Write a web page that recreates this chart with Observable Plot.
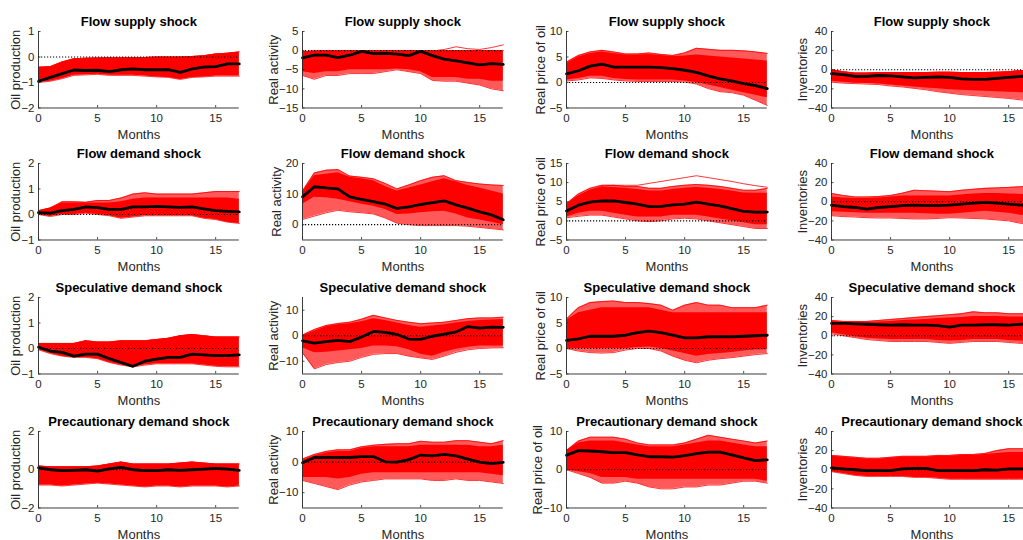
<!DOCTYPE html>
<html><head><meta charset="utf-8">
<script src="https://cdn.jsdelivr.net/npm/d3@7"></script>
<script src="https://cdn.jsdelivr.net/npm/@observablehq/plot@0.6"></script>
<style>
body{margin:0;background:#fff;}
#chart{position:relative;width:1023px;height:540px;overflow:hidden;background:#fff;font-family:"Liberation Sans",Arial,sans-serif;}
.panel{position:absolute;}
.panel svg{max-width:none !important;}
</style></head><body><div id="chart"></div>
<script>
// ---------- data ----------
const months = [0,1,2,3,4,5,6,7,8,9,10,11,12,13,14,15,16,17];
const shockTitles = ["Flow supply shock","Flow demand shock","Speculative demand shock","Precautionary demand shock"];
const varLabels = ["Oil production","Real activity","Real price of oil","Inventories"];
const xTicks = [0,5,10,15];
const xDomain = [0,17];

const yDomainProd  = [[-2,1],[-1,2],[-1,2],[-2,2]];
const yTicksProd   = [[-2,-1,0,1],[-1,0,1,2],[-1,0,1,2],[-2,0,2]];
const yDomainAct   = [[-15,5],[-5,20],[-15,15],[-15,10]];
const yTicksAct    = [[-15,-10,-5,0,5],[0,10,20],[-10,0,10],[-10,0,10]];
const yDomainPrice = [[-5,10],[-5,15],[-5,10],[-10,10]];
const yTicksPrice  = [[-5,0,5,10],[-5,0,5,10,15],[-5,0,5,10],[-10,0,10]];
const yDomainInv   = [[-40,40],[-40,40],[-40,40],[-40,40]];
const yTicksInv    = [[-40,-20,0,20,40],[-40,-20,0,20,40],[-40,-20,0,20,40],[-40,-20,0,20,40]];

// Flow supply shock (Med = median, Lo/Hi = outermost draws, CoreLo/CoreHi = dense bulk of draws)
const fsProdMed = [-0.95,-0.8,-0.65,-0.51,-0.53,-0.52,-0.57,-0.5,-0.47,-0.5,-0.5,-0.5,-0.6,-0.47,-0.4,-0.38,-0.27,-0.27];
const fsProdLo  = [-1.0,-0.95,-0.85,-0.72,-0.7,-0.68,-0.72,-0.72,-0.72,-0.75,-0.78,-0.8,-0.88,-0.8,-0.78,-0.75,-0.75,-0.75];
const fsProdHi  = [-0.4,-0.38,-0.2,-0.07,-0.05,-0.04,-0.03,-0.03,-0.02,-0.02,0,0,0,0.02,0.05,0.12,0.15,0.2];
const fsActMed  = [-1.9,-1.2,-1.2,-1.8,-1.2,-0.2,-0.8,-0.7,-0.9,-1.3,-0.2,-1.3,-2.2,-2.7,-3.2,-3.7,-3.4,-3.6];
const fsActLo   = [-6.5,-7.5,-6.5,-6.5,-6,-6,-6,-5.5,-5,-5.5,-6,-7.8,-8,-8,-8.5,-9,-10,-10.5];
const fsActHi   = [-0.3,-0.1,0,0,0,0,0,0,0,0,0,0,0,0,0,0,0,0];
const fsActCoreLo = [-5.5,-6,-5.5,-5.5,-5,-5,-5,-5,-4.8,-5,-5.5,-7,-7,-7,-7.5,-7.5,-8,-8];
const fsActOut  = [-0.5,-0.3,-0.2,-0.2,-0.2,-0.2,-0.2,-0.2,-0.2,-0.2,-0.2,-0.1,0.3,1,0.5,0.3,0.8,1.5];
const fsPriceMed = [1.7,2.3,3.2,3.6,3.0,3.0,3.0,3.0,2.9,2.7,2.4,2.0,1.3,0.7,0.3,-0.2,-0.6,-1.2];
const fsPriceLo  = [0.3,0.5,0.9,0.8,0.5,0.3,0.2,0.2,0.2,0.2,0.1,-0.3,-1.2,-1.8,-2,-2.5,-3.5,-4.5];
const fsPriceHi  = [4,5.3,6,6.3,6,5.6,5.6,5.8,5.5,5.3,5.8,6.7,6.5,6.3,6.3,6.2,6,5.7];
const fsPriceCoreLo = [0.5,0.8,1.2,1.2,0.8,0.6,0.5,0.5,0.5,0.5,0.3,0,-0.5,-1,-1.5,-2,-2.5,-3];
const fsPriceCoreHi = [3.7,5,5.7,6,5.7,5.4,5.4,5.5,5.3,5.1,5.2,5.4,5.2,5,4.8,4.6,4.4,4.2];
const fsInvMed = [-4,-5,-7,-7,-6,-6.5,-7.5,-8.5,-8,-7.5,-8,-9.5,-10,-10,-9,-8,-7,-6];
const fsInvLo  = [-13,-14,-14.5,-15,-15.5,-17,-18,-19.5,-21,-23,-24.5,-26,-27,-28,-29,-30,-31.5,-32.5];
const fsInvHi  = [0,-2,-3.5,-3.5,-3,-3,-3,-3,-3,-2.5,-2.5,-3,-3,-3,-2.5,-2,-1,-0.5];
const fsInvCoreLo = [-12,-13,-14,-14.5,-15,-16,-17,-18,-19,-20,-21,-21.5,-22,-22.5,-23,-23.5,-24,-24.5];

// Flow demand shock
const fdProdMed = [0.07,0.05,0.15,0.2,0.3,0.27,0.2,0.2,0.3,0.3,0.32,0.3,0.28,0.3,0.22,0.15,0.12,0.1];
const fdProdLo  = [0,-0.08,0,0,0.05,0,-0.05,-0.15,-0.1,-0.05,-0.05,-0.05,-0.05,-0.05,-0.15,-0.2,-0.3,-0.35];
const fdProdHi  = [0.15,0.25,0.5,0.5,0.48,0.55,0.55,0.65,0.8,0.85,0.8,0.8,0.8,0.8,0.85,0.9,0.9,0.9];
const fdProdCoreHi = [0.15,0.25,0.45,0.45,0.45,0.45,0.45,0.5,0.6,0.65,0.65,0.65,0.65,0.65,0.65,0.65,0.65,0.6];
const fdActMed  = [9.1,12.4,12,11.7,9.1,8.3,7.5,6.7,5.3,5.8,6.6,7.2,7.8,6.5,5.4,4.2,3.2,1.6];
const fdActLo   = [1.7,2.8,3.9,4.7,4.2,3.9,3.5,2.2,0.5,0,-0.3,-0.3,-0.3,-0.3,-0.5,-0.9,-1.3,-1.7];
const fdActHi   = [11,16.9,17.8,18,15.9,15.5,15,13.5,11.7,13,14.4,15.5,16,14.4,13.8,13.3,13,12.8];
const fdActCoreLo = [6.7,9,8.8,8.3,7.5,6.7,6,5,3.3,3.5,3.9,4.2,4.4,3.5,2.2,1.5,0.8,0];
const fdActCoreHi = [10.5,16,16.5,17,15.5,15,14.4,12.5,11,12,13,14,15,14,12.8,12,11,10];
const fdPriceMed = [2.6,4.1,4.9,5.2,5.2,4.8,4.4,3.7,3.8,4.2,4.4,4.9,4.4,3.9,3.2,2.5,2.3,2.3];
const fdPriceLo  = [0.8,1.2,1.5,1.5,1,0.5,0,-0.2,0,0.5,0.7,0.5,0,-0.5,-1,-1.5,-2,-2];
const fdPriceHi  = [4.5,7,8.5,9.3,9.3,9,9,8.5,8.5,9,9.3,9.5,9.3,9,8.5,8,8,8.5];
const fdPriceCoreLo = [1,2,2.5,2.5,2,1.5,1,1,1,1.5,1.5,1.5,1,0.5,0,-0.5,-1,-1];
const fdPriceCoreHi = [4.3,6.5,8,8.7,8.7,8.5,8.2,7.8,7.8,8.2,8.5,8.7,8.5,8.2,7.8,7.3,7.2,7.2];
const fdPriceOut = [4.5,6.5,8,9,9.3,9.3,9.3,9.8,10.3,10.8,11.3,11.8,11.3,10.8,10.3,9.7,9.2,8.8];
const fdInvMed = [-3.5,-5,-6,-7.7,-6,-5,-4,-3.5,-4,-4,-3.5,-2.5,-1.5,-0.7,-1.5,-2.5,-3.5,-3];
const fdInvLo  = [-14.6,-15.5,-16,-16.7,-17,-17,-17.5,-18,-18,-17.5,-16.7,-17,-17.5,-18,-19,-20,-22.6,-23];
const fdInvHi  = [8.7,6.5,5,5,5.5,6.5,9,12,11.5,11,10.5,12,13,14,14.5,15,15.7,16];
const fdInvCoreLo = [-10.5,-11,-11.5,-12,-12,-12,-12,-12,-12.5,-13,-13,-12,-11,-10,-11,-12,-14,-14];
const fdInvCoreHi = [5,4,3.5,3.5,4,5,6,6,6,6,6,7,8,8.7,8.5,8,7.7,7.5];

// Speculative demand shock
const spProdMed = [0.05,-0.1,-0.15,-0.3,-0.22,-0.22,-0.4,-0.55,-0.7,-0.5,-0.42,-0.35,-0.35,-0.22,-0.25,-0.28,-0.28,-0.25];
const spProdLo  = [-0.05,-0.2,-0.3,-0.35,-0.35,-0.4,-0.55,-0.65,-0.72,-0.65,-0.6,-0.6,-0.6,-0.6,-0.65,-0.7,-0.72,-0.72];
const spProdHi  = [0.2,0.2,0.2,0.2,0.3,0.25,0.25,0.3,0.3,0.3,0.35,0.4,0.5,0.55,0.5,0.45,0.45,0.45];
const spActMed  = [-2,-2.9,-2.3,-1.8,-2.3,-0.5,1.7,1.3,0.5,-1.3,-1.4,-0.2,0.6,1.5,3.6,3,3.4,3.3];
const spActLo   = [-6.7,-13,-11.3,-10.5,-10,-8.5,-7.3,-7,-7,-8,-8.7,-9.3,-8,-6.5,-5.5,-5,-4.8,-4.7];
const spActHi   = [0.3,2.4,4,4.8,5.3,6.5,8,7,6,5.3,4.7,5,5.3,6,6.7,7,7,7.3];
const spActCoreLo = [-4.7,-6.7,-6.5,-6,-5.5,-5,-4,-4,-4.3,-5.5,-7.3,-8,-6.5,-5.3,-4.5,-4,-4,-4];
const spActCoreHi = [0,1.8,3.5,4.3,4.7,5.5,6.7,6,5,4,3.3,3.8,4.3,5,5.6,6,6.2,6.4];
const spPriceMed = [1.6,1.9,2.4,2.4,2.4,2.6,3.1,3.4,3.1,2.6,2.1,2.1,2.3,2.3,2.3,2.4,2.5,2.6];
const spPriceLo  = [0,-0.5,-0.8,-0.9,-0.8,-0.3,0,0,-0.5,-1.5,-2.3,-2.8,-2.3,-2,-1.8,-1.5,-1.2,-1];
const spPriceHi  = [5.8,8,9,9.2,9.3,9,9,8.8,8.5,7.5,8.5,9,8.5,8.5,8,8,8,8.5];
const spPriceCoreLo = [0,0,0,0,0,0,0.2,0.3,0,-0.5,-1,-1.5,-1.2,-1,-0.8,-0.5,-0.3,-0.2];
const spPriceCoreHi = [5.5,7,7.5,8,8,8,8,8,7.5,7,7,7,7,7,7,7,7,7];
const spInvMed = [13,13,12.5,12,11.5,11,11.5,11,11,10.5,9,11,11,11.5,11.5,11,12,13];
const spInvLo  = [2,0,-2,-4,-5,-6,-6,-6,-6,-7,-8,-7,-6,-6,-6,-7,-8,-8];
const spInvHi  = [16,15,15,15,16,17,18,19,20,21,22,23,25,24,24,23,23,23];
const spInvCoreLo = [3,1,-1,-2.5,-3.5,-4,-4,-4,-4,-5,-5.5,-5,-4,-4,-4,-5,-5.5,-5.5];
const spInvCoreHi = [15,14,14,14,14.5,15,16,16.5,17,18,18.5,19,20,20,20,19.5,19.5,19.5];

// Precautionary demand shock
const prProdMed = [0.1,0,-0.05,-0.03,0,-0.07,0.05,0.12,0,-0.05,-0.05,0,-0.03,0,0.03,0.07,0.03,-0.03];
const prProdLo  = [-0.8,-0.8,-0.85,-0.8,-0.75,-0.7,-0.75,-0.8,-0.85,-0.9,-0.85,-0.85,-0.9,-0.85,-0.85,-0.85,-0.9,-0.85];
const prProdHi  = [0.2,0.15,0.15,0.15,0.15,0.2,0.3,0.4,0.3,0.3,0.3,0.3,0.35,0.4,0.35,0.3,0.3,0.3];
const prActMed  = [-0.2,1.5,1.5,1.5,1.5,1.8,1.8,0.1,0,0.8,2.3,2,2.5,2,1,0,-0.5,-0.1];
const prActLo   = [-6,-7,-8,-9,-7.5,-6.5,-6,-5.5,-5.5,-5.5,-5.5,-6,-6,-5.5,-6,-6,-6.5,-7];
const prActHi   = [1,2.5,3.5,4,4,5,5.5,5.8,6,6,6.8,6.5,6.5,7,7,6.5,6,7];
const prActCoreLo = [-5,-5,-5,-5.5,-5,-4,-3.5,-3.5,-3.5,-3.5,-3.5,-3.5,-3.5,-3.5,-3.5,-3.5,-4,-4.5];
const prActCoreHi = [0.5,2,3,3.5,3.5,4.5,5,5,5,5,5.5,5.5,5.5,5.5,5.5,5,5,5.5];
const prPriceMed = [3.8,5,4.9,4.7,4.5,4.5,3.9,3.4,3.4,3.3,3.7,4.2,4.6,4.6,3.9,3.1,2.4,2.6];
const prPriceLo  = [0,-1,-2,-3.5,-3.5,-3,-3.5,-4.5,-5,-5,-4.5,-4.5,-4,-4,-3.5,-3,-3,-3.5];
const prPriceHi  = [5,7.5,8.5,8.5,8.5,8,7,6.5,6.5,6.5,7,8,9,8.5,8,7.5,7,7.5];
const prPriceCoreLo = [0,-0.5,-1,-2,-2,-2,-2.5,-2.5,-2.5,-2.5,-2.5,-2.5,-2.5,-2.5,-2.5,-2.5,-2.5,-3];
const prPriceCoreHi = [5,7,7.5,7.5,7.5,7,6.5,6,6,6,6.5,7,7.5,7.5,7,6.5,6,6];
const prInvMed = [2,1,0,-1,-1,-1,1,1.5,1.5,-1,-1,-1,-1,0,-0.5,1,1,1];
const prInvLo  = [-2,-4,-6,-7,-7,-7,-7,-8,-8,-9,-10,-10,-10,-10,-10,-10,-10,-10];
const prInvHi  = [15,14,13,12,12,13,14,14,14,15,15,16,16,17,20,22,22,22];
const prInvCoreHi = [14,13,12,11,11,12,13,13,13,14,14,15,15,16,17,18,18,18];

// ---------- tables built from the arrays: [median, lo, hi, coreLo, coreHi, extra line] ----------
const grid = [
  [[fsProdMed,fsProdLo,fsProdHi,null,null,null],[fsActMed,fsActLo,fsActHi,fsActCoreLo,null,fsActOut],[fsPriceMed,fsPriceLo,fsPriceHi,fsPriceCoreLo,fsPriceCoreHi,null],[fsInvMed,fsInvLo,fsInvHi,fsInvCoreLo,null,null]],
  [[fdProdMed,fdProdLo,fdProdHi,null,fdProdCoreHi,null],[fdActMed,fdActLo,fdActHi,fdActCoreLo,fdActCoreHi,null],[fdPriceMed,fdPriceLo,fdPriceHi,fdPriceCoreLo,fdPriceCoreHi,fdPriceOut],[fdInvMed,fdInvLo,fdInvHi,fdInvCoreLo,fdInvCoreHi,null]],
  [[spProdMed,spProdLo,spProdHi,null,null,null],[spActMed,spActLo,spActHi,spActCoreLo,spActCoreHi,null],[spPriceMed,spPriceLo,spPriceHi,spPriceCoreLo,spPriceCoreHi,null],[spInvMed,spInvLo,spInvHi,spInvCoreLo,spInvCoreHi,null]],
  [[prProdMed,prProdLo,prProdHi,null,null,null],[prActMed,prActLo,prActHi,prActCoreLo,prActCoreHi,null],[prPriceMed,prPriceLo,prPriceHi,prPriceCoreLo,prPriceCoreHi,null],[prInvMed,prInvLo,prInvHi,null,prInvCoreHi,null]]
];
const yDomains = [yDomainProd,yDomainAct,yDomainPrice,yDomainInv];
const yTicks = [yTicksProd,yTicksAct,yTicksPrice,yTicksInv];

// ---------- layout ----------
const colLeft = [37.7, 302.3, 566, 831];
const rowTop = [30.7, 163.3, 297.3, 430.7];
const plotW = 200.8, plotH = 76.5;
const mL = 38, mR = 6, mT = 30, mB = 36;
const tickLen = 2.5;
const axisColor = "#262626";
const red = "#ff0000";
const font = "'Liberation Sans', Arial, sans-serif";

function labelWidth(s){ let w=0; for (const ch of s) w += ch === "-" ? 3.8 : 6.4; return w; }

const chart = document.getElementById("chart");
for (let r = 0; r < 4; r++) {
  for (let c = 0; c < 4; c++) {
    const [med, lo, hi, cLo, cHi, out] = grid[r][c];
    const rows = months.map((m, i) => ({
      m, med: med[i], lo: lo[i], hi: hi[i],
      clo: (cLo || lo)[i], chi: (cHi || hi)[i],
      out: out ? out[i] : null
    }));
    const yd = yDomains[c][r];
    const yt = yTicks[c][r];
    const yTickTop = yd[0] + (yd[1] - yd[0]) * tickLen / plotH;
    const xTickRight = xDomain[0] + (xDomain[1] - xDomain[0]) * tickLen / plotW;
    const maxW = Math.max(...yt.map(t => labelWidth(String(t))));
    const marks = [
      Plot.areaY(rows, {x: "m", y1: "lo", y2: "hi", fill: red, fillOpacity: 0.65}),
      Plot.areaY(rows, {x: "m", y1: "clo", y2: "chi", fill: red}),
      Plot.lineY(rows, {x: "m", y: "lo", stroke: red, strokeWidth: 0.8}),
      Plot.lineY(rows, {x: "m", y: "hi", stroke: red, strokeWidth: 0.8})
    ];
    if (out) marks.push(Plot.lineY(rows, {x: "m", y: "out", stroke: red, strokeWidth: 0.8}));
    marks.push(
      Plot.ruleY([0], {stroke: "#000", strokeWidth: 1.2, strokeDasharray: "1.2,1.8"}),
      Plot.lineY(rows, {x: "m", y: "med", stroke: "#000", strokeWidth: 2.8}),
      Plot.ruleX([0], {stroke: axisColor, strokeWidth: 0.9}),
      Plot.ruleY([yd[0]], {stroke: axisColor, strokeWidth: 0.9}),
      Plot.ruleX(xTicks, {x: d => d, y1: yd[0], y2: yTickTop, stroke: axisColor, strokeWidth: 0.8}),
      Plot.ruleY(yt, {y: d => d, x1: xDomain[0], x2: xTickRight, stroke: axisColor, strokeWidth: 0.8}),
      Plot.axisX(xTicks, {tickSize: 0, tickPadding: 6, fontSize: 11.5, fill: axisColor, label: null}),
      Plot.axisY(yt, {tickSize: 0, tickPadding: 4, fontSize: 11.5, fill: axisColor, label: null}),
      Plot.text([shockTitles[r]], {text: d => d, frameAnchor: "top", dy: -10, lineAnchor: "middle", fontWeight: "bold", fontSize: 13, fill: "#000"}),
      Plot.text(["Months"], {text: d => d, frameAnchor: "bottom", dy: 26.5, lineAnchor: "middle", fontSize: 13, fill: axisColor}),
      Plot.text([varLabels[c]], {text: d => d, frameAnchor: "left", rotate: -90, dx: -(maxW + 12.5), lineAnchor: "middle", textAnchor: "middle", fontSize: 13, fill: axisColor})
    );
    const W = mL + plotW + mR, H = mT + plotH + mB;
    const svg = Plot.plot({
      width: W,
      height: H,
      marginLeft: mL, marginRight: mR, marginTop: mT, marginBottom: mB,
      style: {fontFamily: font, background: "transparent", overflow: "visible", maxWidth: "none"},
      x: {domain: xDomain},
      y: {domain: yd},
      marks
    });
    const div = document.createElement("div");
    div.className = "panel";
    div.style.left = (colLeft[c] - mL) + "px";
    div.style.top = (rowTop[r] - mT) + "px";
    div.style.width = W + "px";
    div.style.height = H + "px";
    div.appendChild(svg);
    chart.appendChild(div);
  }
}
</script></body></html>
